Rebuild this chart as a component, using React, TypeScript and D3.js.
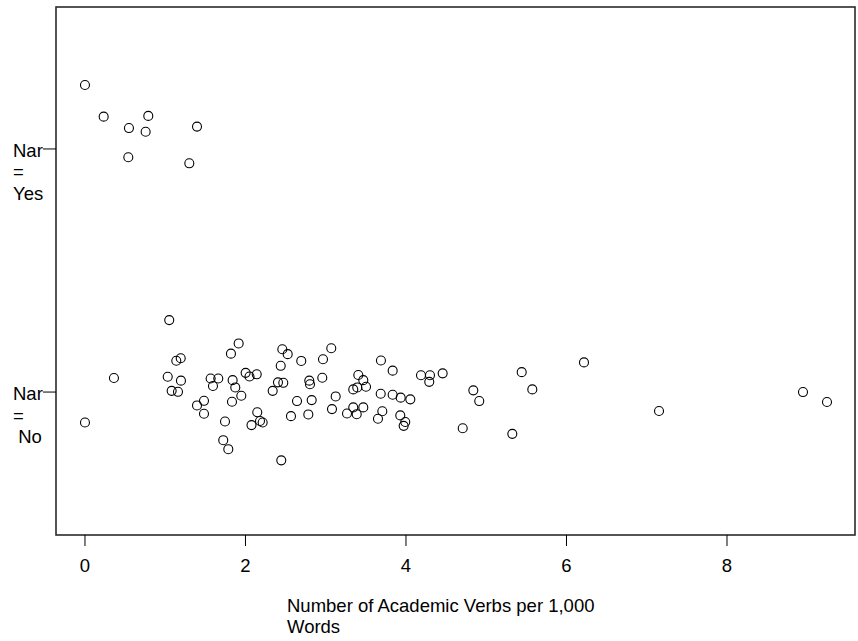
import React from "react";
import * as d3 from "d3";

// Nar = Yes group (x: academic verbs per 1,000 words, y: jittered category position, Yes = 1)
const yesX = [0.0, 0.233, 0.789, 0.548, 0.756, 1.396, 0.54, 1.3];
const yesY = [1.263, 1.133, 1.136, 1.086, 1.071, 1.092, 0.966, 0.941];

// Nar = No group (No = 0)
const noX = [
  0.0, 0.361, 1.05, 1.138, 1.193, 1.031, 1.196, 1.08, 1.159, 1.483, 1.396, 1.483,
  1.566, 1.661, 1.595, 1.915, 1.819, 1.84, 1.873, 1.948, 1.832, 2.002, 2.05, 2.14,
  2.147, 2.181, 2.214, 2.075, 1.745, 1.723, 1.786, 2.459, 2.526, 2.439, 2.695, 2.966,
  3.069, 2.405, 2.471, 2.339, 2.795, 2.804, 2.957, 2.642, 2.825, 3.124, 2.567, 2.783,
  3.078, 3.688, 3.834, 3.406, 3.468, 3.393, 3.343, 3.502, 3.685, 3.834, 3.934, 4.054,
  4.187, 4.299, 4.29, 4.457, 3.343, 3.468, 3.265, 3.386, 3.705, 3.651, 3.929, 3.991,
  3.971, 2.446, 5.442, 6.218, 4.839, 4.913, 5.574, 4.707, 5.325, 7.153, 8.947, 9.246,
];
const noY = [
  -0.125, 0.058, 0.296, 0.129, 0.139, 0.063, 0.047, 0.005, 0.001, -0.036, -0.055, -0.089,
  0.056, 0.056, 0.025, 0.2, 0.158, 0.049, 0.019, -0.015, -0.04, 0.079, 0.064, 0.073,
  -0.083, -0.119, -0.125, -0.136, -0.121, -0.198, -0.235, 0.176, 0.156, 0.108, 0.128, 0.135,
  0.18, 0.04, 0.038, 0.005, 0.047, 0.032, 0.059, -0.037, -0.033, -0.018, -0.099, -0.092,
  -0.07, 0.13, 0.088, 0.07, 0.049, 0.019, 0.011, 0.022, -0.007, -0.011, -0.023, -0.03,
  0.069, 0.069, 0.042, 0.077, -0.063, -0.063, -0.088, -0.091, -0.079, -0.11, -0.096, -0.123,
  -0.139, -0.281, 0.082, 0.122, 0.007, -0.037, 0.011, -0.149, -0.172, -0.078, 0.0, -0.041,
];

const xTicks = [0, 2, 4, 6, 8];
const yCats = [
  { value: 1, lines: ["Nar", "=", "Yes"] },
  { value: 0, lines: ["Nar", "=", " No"] },
];
const xTitle = ["Number of Academic Verbs per 1,000", "Words"];

const W = 858;
const H = 641;
const frame = { left: 56, right: 855, top: 7, bottom: 535 };
const FONT = "'Liberation Sans', Arial, Helvetica, sans-serif";
const FS = 18.5;

export default function App() {
  const x = d3.scaleLinear().domain([-0.361, 9.595]).range([frame.left, frame.right]);
  const y = d3.scaleLinear().domain([-0.588, 1.584]).range([frame.bottom, frame.top]);

  const pts = [
    ...yesX.map((v, i) => ({ x: v, y: yesY[i] })),
    ...noX.map((v, i) => ({ x: v, y: noY[i] })),
  ];

  return (
    <svg
      width={W}
      height={H}
      style={{ position: "absolute", left: 0, top: 0, background: "#fff" }}
      fontFamily={FONT}
    >
      <rect x={0} y={0} width={W} height={H} fill="#fff" />
      <rect
        x={frame.left}
        y={frame.top}
        width={frame.right - frame.left}
        height={frame.bottom - frame.top}
        fill="none"
        stroke="#2a2a2a"
        strokeWidth={1.6}
      />
      {xTicks.map((t) => (
        <g key={t}>
          <line x1={x(t)} x2={x(t)} y1={frame.bottom} y2={frame.bottom + 11} stroke="#000" strokeWidth={1} />
          <text x={x(t)} y={frame.bottom + 37} textAnchor="middle" fontSize={FS} fill="#000">
            {t}
          </text>
        </g>
      ))}
      {yCats.map((c) => (
        <g key={c.value}>
          <line x1={frame.left - 13} x2={frame.left} y1={y(c.value)} y2={y(c.value)} stroke="#000" strokeWidth={1} />
          {c.lines.map((l, i) => (
            <text key={i} x={13} y={y(c.value) + 8 + i * 21.5} fontSize={FS} fill="#000" style={{ whiteSpace: "pre" }}>
              {l}
            </text>
          ))}
        </g>
      ))}
      {pts.map((p, i) => (
        <circle key={i} cx={x(p.x)} cy={y(p.y)} r={4.5} fill="none" stroke="#000" strokeWidth={1.1} />
      ))}
      {xTitle.map((l, i) => (
        <text key={i} x={287} y={612 + i * 21} fontSize={FS} fill="#000">
          {l}
        </text>
      ))}
    </svg>
  );
}
